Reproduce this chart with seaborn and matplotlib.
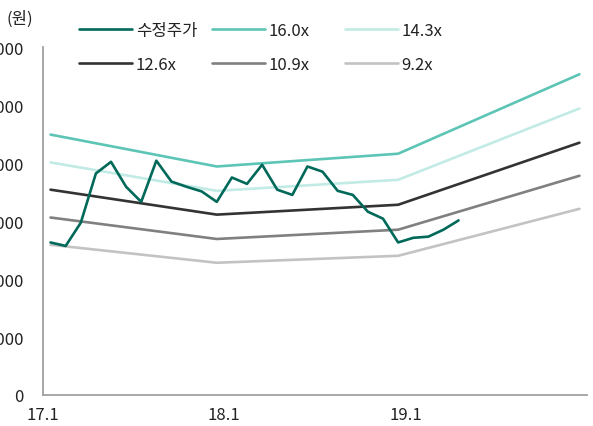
import matplotlib
matplotlib.use("Agg")
import matplotlib.pyplot as plt
import seaborn as sns
import numpy as np
import pandas as pd

# ---- data ----
price_months = list(range(28))  # month index from 17.1 (0 = Jan 2017)
price = [26300, 25700, 29700, 38200, 40200, 35900, 33300, 40400, 36800, 35900,
         35100, 33300, 37500, 36400, 39700, 35400, 34500, 39400, 38500, 35200,
         34500, 31600, 30400, 26300, 27100, 27300, 28500, 30100]

band_months = [0, 11, 23, 35]
band_16_0 = [44900, 39400, 41600, 55300]
band_14_3 = [40100, 35200, 37100, 49400]
band_12_6 = [35400, 31100, 32800, 43500]
band_10_9 = [30600, 26900, 28500, 37800]
band_9_2 = [25900, 22800, 24000, 32100]

labels = ["수정주가", "16.0x", "14.3x", "12.6x", "10.9x", "9.2x"]
xtick_labels = ["17.1", "18.1", "19.1"]
yticks = [0, 10000, 20000, 30000, 40000, 50000, 60000]

colors = ["#00695a", "#5cc5b5", "#c2ebe5", "#333333", "#808080", "#c3c3c3"]

sns.set_theme(style="white")
plt.rcParams["font.family"] = ["Noto Sans CJK KR", "DejaVu Sans"]

fig = plt.figure(figsize=(5.93, 4.27), dpi=100)
ax = fig.add_axes([43 / 593, 1 - 396 / 427, (587 - 43) / 593, (396 - 48) / 427])

lw = 1.9
series = [band_16_0, band_14_3, band_12_6, band_10_9, band_9_2]
handles = {}
for lab, col, vals in zip(labels[1:], colors[1:], series):
    sns.lineplot(x=np.array(band_months) + 0.5, y=vals, color=col, lw=lw, ax=ax)
    handles[lab] = ax.get_lines()[-1]
sns.lineplot(x=np.array(price_months) + 0.5, y=price, color=colors[0], lw=lw, ax=ax)
handles[labels[0]] = ax.get_lines()[-1]

ax.set_xlim(0, 36)
ax.set_ylim(0, 60000)
ax.set_xticks([0, 12, 24, 36])
ax.set_xticklabels(xtick_labels + [""])
ax.set_yticks(yticks)
ax.set_yticklabels([f"{v:,}" for v in yticks])

for s in ["top", "right"]:
    ax.spines[s].set_visible(False)
for s in ["left", "bottom"]:
    ax.spines[s].set_color("#a0a0a0")
    ax.spines[s].set_linewidth(1.3)
ax.tick_params(axis="both", colors="#a0a0a0", labelcolor="#222222",
               labelsize=12, length=5, width=1.3, direction="out")
ax.tick_params(axis="y", pad=9)
ax.tick_params(axis="x", length=4, pad=4)

fig.text(20 / 593, 1 - 19 / 427, "(원)", ha="center", va="center",
         fontsize=12, color="#222222")

# legends: three columns, two rows
cols = [(labels[0], labels[3]), (labels[1], labels[4]), (labels[2], labels[5])]
xs = [79, 212, 345]
for (a, b), x0 in zip(cols, xs):
    leg = fig.legend([handles[a], handles[b]], [a, b],
                     loc="upper left", bbox_to_anchor=(x0 / 593, 1 - 23 / 427),
                     frameon=False, fontsize=12, handlelength=3.2,
                     handletextpad=0.2, labelspacing=1.0,
                     borderpad=0, borderaxespad=0)
    for t in leg.get_texts():
        t.set_color("#222222")

fig.savefig("out.png", dpi=100)
